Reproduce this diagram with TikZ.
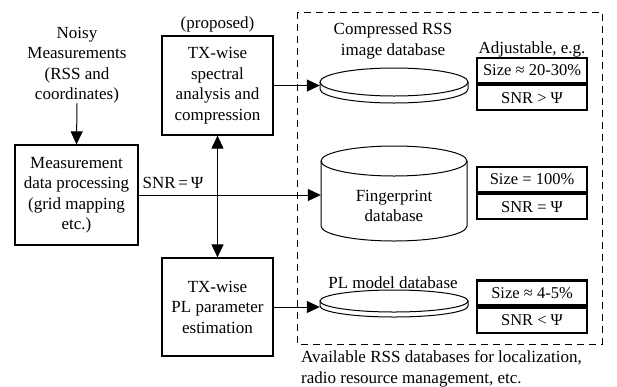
\documentclass[tikz,border=0pt]{standalone}
\usepackage{fontspec}
\setmainfont{Liberation Serif}
\usetikzlibrary{arrows.meta}
\begin{document}
\begin{tikzpicture}[x=1pt,y=-1pt,
  every node/.style={font=\fontsize{17}{20.5}\selectfont},
  blk/.style={draw, line width=1.2pt, align=center, inner sep=0pt},
  arr/.style={line width=1pt, -{Triangle[length=13pt,width=12pt]}},
  darr/.style={line width=1pt, {Triangle[length=13pt,width=12pt]}-{Triangle[length=13pt,width=12pt]}},
  disc/.style={line width=1pt},
  spot/.style={inner sep=0pt, minimum width=#1},
  tbl/.style={draw, line width=2.2pt, minimum width=110pt, minimum height=25pt,
    inner sep=0pt, font=\fontsize{16.5}{20}\selectfont},
  lbl/.style={align=center, inner sep=0pt}
]
\useasboundingbox (0,0) rectangle (617,386);

% processing chain
\node[lbl] (noisy) at (77,65) {Noisy\\Measurements\\(RSS and\\coordinates)};
\node[blk, minimum width=123pt, minimum height=100pt] (meas) at (76.5,195)
  {Measurement\\data processing\\(grid mapping\\etc.)};
\node[blk, minimum width=111pt, minimum height=99pt] (spec) at (217.5,85.5)
  {TX-wise\\spectral\\analysis and\\compression};
\node[lbl] (prop) at (217.5,24) {(proposed)};
\node[blk, minimum width=111pt, minimum height=98pt] (plest) at (217.5,307)
  {TX-wise\\PL parameter\\estimation};
\node[lbl] (snr) at (173,183) {SNR\,=\,Ψ};

% database area
\draw[line width=0.9pt, dash pattern=on 7pt off 5pt] (297,12) rectangle (602,344);
\node[lbl, anchor=west, align=left] (avail) at (301,369)
  {Available RSS databases for localization,\\radio resource management, etc.};

% compressed image database (thin disc)
\draw[disc] (320,82) -- (320,89) arc[start angle=180, end angle=0, x radius=74, y radius=14] -- (468,82);
\draw[disc] (394,82) ellipse[x radius=74, y radius=14];
\node[spot=148pt, minimum height=20pt] (cimg) at (394,86) {};
\node[lbl] (cimgl) at (393,41) {Compressed RSS\\image database};

% fingerprint database (tall cylinder)
\draw[disc] (321,161) -- (321,226) arc[start angle=180, end angle=0, x radius=73, y radius=15] -- (467,161);
\draw[disc] (394,161) ellipse[x radius=73, y radius=15];
\node[spot=146pt, minimum height=60pt] (fp) at (394,196) {};
\node[lbl] (fpl) at (394,206) {Fingerprint\\database};

% path-loss model database (thin disc)
\draw[disc] (320,301) -- (320,306) arc[start angle=180, end angle=0, x radius=74, y radius=11] -- (468,301);
\draw[disc] (394,301) ellipse[x radius=74, y radius=11];
\node[spot=148pt, minimum height=16pt] (pl) at (394,304) {};
\node[lbl] (pll) at (393,283) {PL model database};

% size / SNR tables
\node[lbl] (adj) at (532,49) {Adjustable, e.g.};
\node[tbl] (t1a) at (532,70.5) {Size ≈ 20-30\%};
\node[tbl, anchor=north] (t1b) at (t1a.south) {SNR > Ψ};
\node[tbl] (t2a) at (532,179.5) {Size = 100\%};
\node[tbl, anchor=north] (t2b) at (t2a.south) {SNR = Ψ};
\node[tbl] (t3a) at (532,293) {Size ≈ 4-5\%};
\node[tbl, anchor=north] (t3b) at (t3a.south) {SNR < Ψ};

% connectors
\draw[arr] (noisy.south) -- (meas.north);
\draw[arr] (meas.east) -- (meas.east -| fp.west);
\draw[arr] (spec.east) -- (spec.east -| cimg.west);
\draw[arr] (plest.east) -- (plest.east -| pl.west);
\draw[darr] (spec.south) -- (plest.north);
\end{tikzpicture}
\end{document}
